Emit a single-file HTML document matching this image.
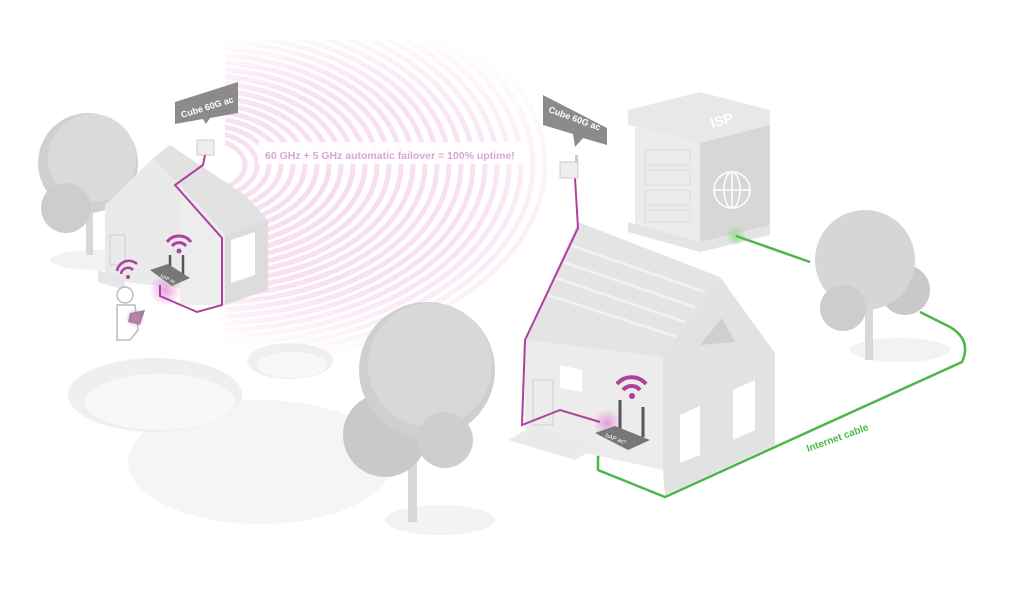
<!DOCTYPE html>
<html><head><meta charset="utf-8"><style>
html,body{margin:0;padding:0;background:#fff;}
svg{display:block;font-family:"Liberation Sans",sans-serif;}
</style></head><body>
<svg width="1018" height="615" viewBox="0 0 1018 615" xmlns="http://www.w3.org/2000/svg">
<defs>
<radialGradient id="fade" cx="330" cy="190" r="260" gradientUnits="userSpaceOnUse" gradientTransform="translate(330 190) scale(1 0.65) translate(-330 -190)">
<stop offset="0" stop-color="#fff" stop-opacity="1"/><stop offset="0.6" stop-color="#fff" stop-opacity="0.8"/><stop offset="1" stop-color="#fff" stop-opacity="0"/></radialGradient>
<mask id="wm"><rect x="225" y="40" width="360" height="320" fill="url(#fade)"/></mask>
<radialGradient id="pg"><stop offset="0" stop-color="#e27ad0" stop-opacity=".7"/><stop offset="1" stop-color="#e27ad0" stop-opacity="0"/></radialGradient>
<radialGradient id="gg"><stop offset="0" stop-color="#6fe06a" stop-opacity=".7"/><stop offset="1" stop-color="#6fe06a" stop-opacity="0"/></radialGradient>
</defs>
<!-- wave arcs -->
<g mask="url(#wm)" fill="none" stroke="#f7dcef" stroke-width="5">
<ellipse cx="205" cy="165" rx="40" ry="26"/><ellipse cx="205" cy="165" rx="52" ry="33"/>
<ellipse cx="205" cy="165" rx="64" ry="40"/><ellipse cx="205" cy="165" rx="76" ry="47"/>
<ellipse cx="205" cy="165" rx="88" ry="54"/><ellipse cx="205" cy="165" rx="100" ry="61"/>
<ellipse cx="205" cy="165" rx="112" ry="68"/><ellipse cx="205" cy="165" rx="124" ry="75"/>
<ellipse cx="205" cy="165" rx="136" ry="82"/><ellipse cx="205" cy="165" rx="148" ry="89"/>
<ellipse cx="205" cy="165" rx="160" ry="96"/><ellipse cx="205" cy="165" rx="172" ry="103"/>
<ellipse cx="205" cy="165" rx="184" ry="110"/><ellipse cx="205" cy="165" rx="196" ry="117"/>
<ellipse cx="205" cy="165" rx="208" ry="124"/><ellipse cx="205" cy="165" rx="220" ry="131"/>
<ellipse cx="205" cy="165" rx="232" ry="138"/><ellipse cx="205" cy="165" rx="244" ry="145"/>
<ellipse cx="205" cy="165" rx="256" ry="152"/><ellipse cx="205" cy="165" rx="268" ry="159"/>
<ellipse cx="205" cy="165" rx="280" ry="166"/><ellipse cx="205" cy="165" rx="292" ry="173"/>
<ellipse cx="205" cy="165" rx="304" ry="180"/><ellipse cx="205" cy="165" rx="316" ry="187"/>
<ellipse cx="205" cy="165" rx="328" ry="194"/><ellipse cx="205" cy="165" rx="340" ry="201"/>
</g>
<rect x="258" y="142" width="270" height="22" fill="#fff" opacity="0.9"/>
<text x="265" y="159" font-size="10.5" font-weight="bold" fill="#d9a6d1">60 GHz + 5 GHz automatic failover = 100% uptime!</text>

<!-- ponds -->
<ellipse cx="260" cy="462" rx="132" ry="62" fill="#f5f5f5"/>
<ellipse cx="155" cy="395" rx="87" ry="37" fill="#efefef"/>
<ellipse cx="160" cy="402" rx="75" ry="28" fill="#f8f8f8"/>
<ellipse cx="290" cy="361" rx="43" ry="18" fill="#efefef"/>
<ellipse cx="292" cy="365" rx="35" ry="13" fill="#f8f8f8"/>

<!-- left tree -->
<ellipse cx="100" cy="260" rx="50" ry="10" fill="#f2f2f2"/>
<rect x="86" y="180" width="7" height="75" fill="#d8d8d8"/>
<circle cx="88" cy="163" r="50" fill="#d0d0d0"/>
<circle cx="92" cy="158" r="44" fill="#dadada"/>
<circle cx="66" cy="208" r="25" fill="#cdcdcd"/>

<!-- left house -->
<polygon points="105,205 153,158 200,180 200,290 105,280" fill="#eaeaea"/>
<polygon points="153,158 170,145 245,195 268,220 225,235 180,185" fill="#e2e2e2"/>
<polygon points="180,185 225,235 225,305 180,305" fill="#ededed"/>
<polygon points="225,235 268,220 268,290 225,305" fill="#dcdcdc"/>
<polygon points="231,240 255,232 255,275 231,283" fill="#fff"/>
<rect x="110" y="235" width="15" height="30" fill="none" stroke="#cfcfcf"/>
<polygon points="98,270 125,278 125,290 98,282" fill="#e6e6e6"/>
<!-- person -->
<circle cx="125" cy="295" r="8" fill="#fff" stroke="#bbb" stroke-width="1.5"/>
<polygon points="117,305 135,305 138,330 130,340 117,340" fill="#fff" stroke="#bbb" stroke-width="1.5"/>
<polygon points="130,313 145,310 140,325 128,322" fill="#8a8a8a"/>
<circle cx="135" cy="318" r="10" fill="url(#pg)"/>
<g fill="none" stroke="#b03fa0" stroke-width="2.5"><path d="M121,274 a7,7 0 0 1 12,-4"/><path d="M117,271 a12,12 0 0 1 20,-7"/></g>
<circle cx="128" cy="277" r="2" fill="#b03fa0"/>
<!-- left router -->
<circle cx="165" cy="290" r="16" fill="url(#pg)"/>
<line x1="170" y1="255" x2="170" y2="272" stroke="#555" stroke-width="2.5"/>
<line x1="183" y1="255" x2="183" y2="278" stroke="#555" stroke-width="2.5"/>
<polygon points="150,270 168,264 190,278 172,286" fill="#777"/>
<text x="160" y="277" font-size="5" fill="#fff" transform="rotate(25 160 277)">hAP ac</text>
<g fill="none" stroke="#b03fa0" stroke-width="3"><path d="M172,246 a9,9 0 0 1 14,0"/><path d="M167,242 a15,15 0 0 1 24,0"/></g>
<circle cx="179" cy="251" r="2.5" fill="#b03fa0"/>
<rect x="197" y="140" width="17" height="15" fill="#eee" stroke="#ccc"/>
<polyline points="205,155 203,165 175,185 222,238 222,305 197,312 160,296 160,285" fill="none" stroke="#b03fa0" stroke-width="2"/>
<polygon points="175,102 238,82 238,113 210,118 206,124 203,119 175,124" fill="#8b8b8b"/>
<text x="182" y="118" font-size="9" font-weight="bold" fill="#fff" transform="rotate(-17 182 118)">Cube 60G ac</text>

<!-- ISP building -->
<polygon points="628,110 700,92 770,110 770,125 700,143 628,125" fill="#e8e8e8"/>
<polygon points="700,143 770,125 770,228 700,245" fill="#d7d7d7"/>
<polygon points="635,125 700,143 700,245 635,225" fill="#ececec"/>
<polygon points="628,222 700,242 770,225 770,235 700,252 628,232" fill="#e4e4e4"/>
<text x="712" y="128" font-size="14" font-weight="bold" fill="#fff" transform="rotate(-15 712 128)">ISP</text>
<g fill="none" stroke="#fff" stroke-width="1.5"><circle cx="732" cy="190" r="18"/><ellipse cx="732" cy="190" rx="8" ry="18"/><line x1="714" y1="190" x2="750" y2="190"/><line x1="732" y1="172" x2="732" y2="208"/></g>
<g stroke="#dcdcdc" fill="none"><rect x="645" y="150" width="45" height="15"/><rect x="645" y="170" width="45" height="15"/><rect x="645" y="190" width="45" height="15"/><rect x="645" y="210" width="45" height="12"/></g>
<circle cx="736" cy="236" r="10" fill="url(#gg)"/>

<!-- right tree -->
<ellipse cx="900" cy="350" rx="50" ry="12" fill="#f2f2f2"/>
<rect x="865" y="300" width="8" height="60" fill="#d8d8d8"/>
<circle cx="905" cy="290" r="25" fill="#c9c9c9"/>
<circle cx="865" cy="260" r="50" fill="#d6d6d6"/>
<circle cx="843" cy="308" r="23" fill="#cdcdcd"/>

<!-- green cable -->
<polyline points="736,236 810,262" fill="none" stroke="#4db848" stroke-width="2.5"/>
<path d="M920,312 L950,327 Q972,340 962,362 L665,497 L598,470 L598,456 L620,448" fill="none" stroke="#4db848" stroke-width="2.5"/>
<text x="808" y="452" font-size="10" font-weight="bold" fill="#4db848" transform="rotate(-20 808 452)">Internet cable</text>

<!-- big middle tree -->
<ellipse cx="440" cy="520" rx="55" ry="15" fill="#f3f3f3"/>
<rect x="408" y="430" width="9" height="92" fill="#d8d8d8"/>
<circle cx="385" cy="435" r="42" fill="#c9c9c9"/>
<circle cx="427" cy="370" r="68" fill="#cfcfcf"/>
<circle cx="430" cy="365" r="62" fill="#d8d8d8"/>
<circle cx="445" cy="440" r="28" fill="#cecece"/>

<!-- right house -->
<polygon points="525,340 578,222 720,277 663,357" fill="#e4e4e4"/>
<g stroke="#f1f1f1" stroke-width="3" fill="none"><path d="M570,245 L705,292"/><path d="M563,262 L695,307"/><path d="M556,278 L685,322"/><path d="M548,295 L677,337"/></g>
<polygon points="525,340 663,357 663,470 525,440" fill="#ececec"/>
<polygon points="663,357 720,277 775,353 775,445 665,495 663,470" fill="#e2e2e2"/>
<polygon points="700,345 722,318 735,342" fill="#cfcfcf"/>
<polygon points="680,415 700,406 700,455 680,463" fill="#fff"/>
<polygon points="733,390 755,380 755,430 733,440" fill="#fff"/>
<polygon points="560,365 582,370 582,392 560,388" fill="#fff"/>
<rect x="533" y="380" width="20" height="45" fill="none" stroke="#cfcfcf"/>
<polygon points="508,440 535,425 600,445 575,460" fill="#eaeaea"/>
<circle cx="607" cy="423" r="14" fill="url(#pg)"/>
<polyline points="575,178 578,228 525,340 522,425 560,410 600,422" fill="none" stroke="#b03fa0" stroke-width="2"/>
<line x1="620" y1="400" x2="620" y2="430" stroke="#555" stroke-width="3"/>
<line x1="643" y1="407" x2="643" y2="437" stroke="#555" stroke-width="3"/>
<polygon points="595,433 615,426 650,440 628,450" fill="#777"/>
<text x="605" y="437" font-size="6" fill="#fff" transform="rotate(20 605 437)">hAP ac³</text>
<g fill="none" stroke="#b03fa0" stroke-width="4"><path d="M623,390 a11,11 0 0 1 17,0"/><path d="M617,384 a19,19 0 0 1 29,0"/></g>
<circle cx="632" cy="396" r="3" fill="#b03fa0"/>
<rect x="560" y="162" width="18" height="16" fill="#eee" stroke="#ccc"/>
<rect x="575" y="155" width="3" height="8" fill="#ccc"/>
<polygon points="543,95 607,128 607,145 583,138 575,147 573,134 543,125" fill="#8b8b8b"/>
<text x="548" y="112" font-size="9" font-weight="bold" fill="#fff" transform="rotate(20 548 112)">Cube 60G ac</text>
</svg>
</body></html>
